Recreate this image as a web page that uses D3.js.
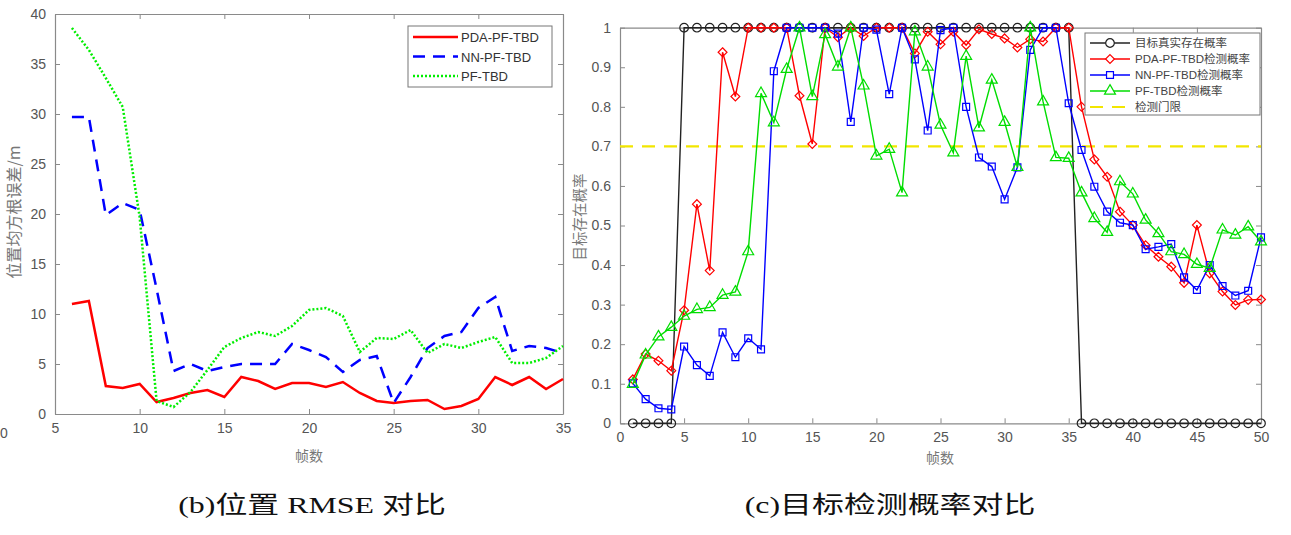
<!DOCTYPE html>
<html>
<head>
<meta charset="utf-8">
<script src="https://cdn.jsdelivr.net/npm/d3@7"></script>
<style>
  body { margin: 0; background: #fff; }
  svg { display: block; }
  .tick text { font-family: "Liberation Sans", Arial, sans-serif; }
</style>
</head>
<body>
<svg id="chart" width="1291" height="535"></svg>
<script>
// ---- left chart: position RMSE (frames 6..35)
var rmseFrames = d3.range(6, 36);
var rmsePDA = [11.0, 11.3, 2.8, 2.6, 3.0, 1.2, 1.6, 2.1, 2.4, 1.7, 3.7, 3.3, 2.5, 3.1,
               3.1, 2.7, 3.2, 2.1, 1.3, 1.1, 1.3, 1.4, 0.5, 0.8, 1.5, 3.7, 2.9, 3.7, 2.5, 3.5];
var rmseNN  = [29.7, 29.7, 19.9, 21.1, 20.4, 12.5, 4.3, 5.0, 4.3, 4.7, 5.0, 5.0, 5.0, 7.0,
               6.4, 5.7, 4.2, 5.4, 5.8, 1.1, 3.7, 6.6, 7.8, 8.2, 10.6, 11.7, 6.3, 6.8, 6.6, 6.1];
var rmsePF  = [38.6, 36.4, 33.6, 30.7, 19.7, 1.3, 0.7, 2.2, 4.4, 6.7, 7.6, 8.2, 7.8, 8.8,
               10.4, 10.6, 9.8, 6.2, 7.6, 7.5, 8.4, 6.1, 7.0, 6.6, 7.2, 7.7, 5.1, 5.1, 5.6, 6.8];
var rmseNames = ["PDA-PF-TBD", "NN-PF-TBD", "PF-TBD"];
var rmseXTicks = [5, 10, 15, 20, 25, 30, 35];
var rmseYTicks = [0, 5, 10, 15, 20, 25, 30, 35, 40];

// ---- right chart: detection probability (frames 1..50)
var probFrames = d3.range(1, 51);
var probTrue = [0, 0, 0, 0, 1, 1, 1, 1, 1, 1, 1, 1, 1, 1, 1, 1, 1, 1, 1, 1, 1, 1, 1, 1, 1,
                1, 1, 1, 1, 1, 1, 1, 1, 1, 1, 0, 0, 0, 0, 0, 0, 0, 0, 0, 0, 0, 0, 0, 0, 0];
var probPDA = [0.111, 0.175, 0.158, 0.133, 0.286, 0.554, 0.386, 0.938, 0.826, 1, 1, 1, 1,
               0.828, 0.706, 1, 0.976, 1, 0.979, 1, 1, 1, 0.935, 0.99, 0.958, 0.99, 0.956,
               0.996, 0.984, 0.973, 0.95, 0.971, 0.965, 1, 1, 0.8, 0.667, 0.623, 0.535, 0.501,
               0.45, 0.421, 0.396, 0.355, 0.501, 0.379, 0.333, 0.299, 0.312, 0.313];
var probNN = [0.101, 0.061, 0.038, 0.035, 0.194, 0.147, 0.12, 0.23, 0.167, 0.215, 0.187,
              0.89, 1, 1, 1, 1, 0.985, 0.762, 1, 0.995, 0.832, 1, 0.92, 0.74, 0.994, 1, 0.8,
              0.672, 0.649, 0.566, 0.647, 0.944, 1, 1, 0.809, 0.691, 0.598, 0.535, 0.507,
              0.501, 0.44, 0.446, 0.453, 0.369, 0.337, 0.4, 0.347, 0.323, 0.335, 0.47];
var probPF = [0.099, 0.173, 0.219, 0.243, 0.271, 0.288, 0.293, 0.324, 0.332, 0.434, 0.834,
              0.76, 0.895, 1, 0.826, 0.983, 0.901, 1, 0.853, 0.676, 0.693, 0.583, 0.99, 0.901,
              0.754, 0.684, 0.928, 0.747, 0.868, 0.761, 0.647, 1, 0.813, 0.672, 0.67, 0.583,
              0.518, 0.483, 0.611, 0.58, 0.514, 0.48, 0.434, 0.427, 0.402, 0.392, 0.489,
              0.476, 0.497, 0.459];
var probThreshold = 0.7;
var probNames = ["目标真实存在概率", "PDA-PF-TBD检测概率", "NN-PF-TBD检测概率", "PF-TBD检测概率", "检测门限"];
var probXTicks = d3.range(0, 51, 5);
var probYTicks = d3.range(0, 11).map(function(d) { return d / 10; });

var svg = d3.select("#chart");
var axisColor = "#8a8a8a";
var labelColor = "#555";
var cjk = "'Noto Sans CJK SC', sans-serif";

/**
 * draws a matlab style box with inside ticks on all four sides
 */
function drawBox(g, x, y, xTicks, yTicks, fmt) {
    var x0 = x.range()[0], x1 = x.range()[1], y0 = y.range()[0], y1 = y.range()[1];

    g.append("g")
            .attr("transform", "translate(0," + y0 + ")")
            .call(d3.axisBottom(x).tickValues(xTicks).tickSizeInner(-5).tickSizeOuter(0).tickPadding(9))
            .call(styleAxis);
    g.append("g")
            .attr("transform", "translate(0," + y1 + ")")
            .call(d3.axisTop(x).tickValues(xTicks).tickSizeInner(-5).tickSizeOuter(0).tickFormat(""))
            .call(styleAxis);
    g.append("g")
            .attr("transform", "translate(" + x0 + ",0)")
            .call(d3.axisLeft(y).tickValues(yTicks).tickSizeInner(-5).tickSizeOuter(0).tickPadding(9).tickFormat(fmt))
            .call(styleAxis);
    g.append("g")
            .attr("transform", "translate(" + x1 + ",0)")
            .call(d3.axisRight(y).tickValues(yTicks).tickSizeInner(-5).tickSizeOuter(0).tickFormat(""))
            .call(styleAxis);

    function styleAxis(a) {
        a.select(".domain").attr("stroke", axisColor).attr("stroke-width", 1.2);
        a.selectAll(".tick line").attr("stroke", axisColor);
        a.selectAll(".tick text").attr("fill", labelColor).style("font-size", "14px");
    }
}

// ================= left chart =================
var lx = d3.scaleLinear().domain([5, 35]).range([55, 563]);
var ly = d3.scaleLinear().domain([0, 40]).range([414, 14]);
var left = svg.append("g");

drawBox(left, lx, ly, rmseXTicks, rmseYTicks, d3.format("d"));

var rmseSeries = [
    {name: rmseNames[0], values: rmsePDA, color: "#ff0000", dash: null},
    {name: rmseNames[1], values: rmseNN, color: "#0000ff", dash: "12,8"},
    {name: rmseNames[2], values: rmsePF, color: "#00ee00", dash: "2,2"}
];

var lline = d3.line()
        .x(function(d, i) { return lx(rmseFrames[i]); })
        .y(function(d) { return ly(d); });

left.selectAll("path.rmse")
        .data(rmseSeries)
        .enter().append("path")
        .attr("class", "rmse")
        .attr("d", function(s) { return lline(s.values); })
        .style("fill", "none")
        .style("stroke", function(s) { return s.color; })
        .style("stroke-width", "2.5px")
        .style("stroke-dasharray", function(s) { return s.dash; });

// legend
var lleg = left.append("g").attr("transform", "translate(408,26)");
lleg.append("rect").attr("width", 144).attr("height", 61)
        .style("fill", "#fff").style("stroke", "#777").style("stroke-width", 1);
rmseSeries.forEach(function(s, i) {
    var yy = 11 + i * 19.5;
    lleg.append("line").attr("x1", 5).attr("x2", 50).attr("y1", yy).attr("y2", yy)
            .style("stroke", s.color).style("stroke-width", "2.5px")
            .style("stroke-dasharray", s.dash);
    lleg.append("text").attr("x", 53).attr("y", yy + 5).text(s.name)
            .style("font-family", "'Liberation Sans', Arial, sans-serif")
            .style("font-size", "13px").style("fill", "#333");
});

left.append("text")
        .attr("transform", "translate(20,212) rotate(-90)")
        .attr("text-anchor", "middle")
        .text("位置均方根误差/m")
        .style("font-family", cjk).style("font-size", "16px").style("fill", "#777");
left.append("text")
        .attr("x", 309).attr("y", 461).attr("text-anchor", "middle")
        .text("帧数")
        .style("font-family", cjk).style("font-size", "14px").style("fill", "#777");
// leftover tick label from the neighbouring panel
left.append("text").attr("x", 0).attr("y", 438).text("0")
        .style("font-family", "'Liberation Sans', Arial, sans-serif")
        .style("font-size", "14px").style("fill", labelColor);

// ================= right chart =================
var rx = d3.scaleLinear().domain([0, 50]).range([620, 1261]);
var ry = d3.scaleLinear().domain([0, 1]).range([423.3, 27.7]);
var right = svg.append("g");

drawBox(right, rx, ry, probXTicks, probYTicks, function(d) { return d3.format("")(+d.toFixed(1)); });

var probSeries = [
    {name: probNames[0], values: probTrue, color: "#222", marker: "circle"},
    {name: probNames[1], values: probPDA, color: "#ff0000", marker: "diamond"},
    {name: probNames[2], values: probNN, color: "#0000ff", marker: "square"},
    {name: probNames[3], values: probPF, color: "#00dd00", marker: "triangle"}
];

var symbols = {
    circle: d3.symbol().type(d3.symbolCircle).size(58),
    diamond: d3.symbol().type(d3.symbolDiamond2).size(50),
    square: d3.symbol().type(d3.symbolSquare).size(48),
    triangle: d3.symbol().type(d3.symbolTriangle).size(52)
};

// threshold under the series
right.append("line")
        .attr("x1", rx(0)).attr("x2", rx(50))
        .attr("y1", ry(probThreshold)).attr("y2", ry(probThreshold))
        .style("stroke", "#f2e600").style("stroke-width", "2.2px")
        .style("stroke-dasharray", "13,9");

var rline = d3.line()
        .x(function(d, i) { return rx(probFrames[i]); })
        .y(function(d) { return ry(d); });

probSeries.forEach(function(s) {
    var g = right.append("g");
    g.append("path")
            .attr("d", rline(s.values))
            .style("fill", "none")
            .style("stroke", s.color)
            .style("stroke-width", "1.4px");
    g.selectAll("path.mk")
            .data(s.values)
            .enter().append("path")
            .attr("class", "mk")
            .attr("d", symbols[s.marker])
            .attr("transform", function(d, i) {
                return "translate(" + rx(probFrames[i]) + "," + ry(d) + ")";
            })
            .style("fill", "none")
            .style("stroke", s.color)
            .style("stroke-width", "1.2px");
});

// legend
var rleg = right.append("g").attr("transform", "translate(1085,33)");
rleg.append("rect").attr("width", 175).attr("height", 82)
        .style("fill", "#fff").style("stroke", "#777").style("stroke-width", 1);
probNames.forEach(function(name, i) {
    var yy = 10 + i * 16;
    var s = probSeries[i];
    var line = rleg.append("line").attr("x1", 5).attr("x2", 45).attr("y1", yy).attr("y2", yy);
    if (s) {
        line.style("stroke", s.color).style("stroke-width", "1.4px");
        rleg.append("path").attr("d", symbols[s.marker])
                .attr("transform", "translate(25," + yy + ")")
                .style("fill", "#fff").style("stroke", s.color).style("stroke-width", "1.2px");
    } else {
        line.style("stroke", "#f2e600").style("stroke-width", "2.2px").style("stroke-dasharray", "13,9");
    }
    rleg.append("text").attr("x", 50).attr("y", yy + 4).text(name)
            .style("font-family", "'Liberation Sans', " + cjk)
            .style("font-size", "11.5px").style("fill", "#444");
});

right.append("text")
        .attr("transform", "translate(585,217) rotate(-90)")
        .attr("text-anchor", "middle")
        .text("目标存在概率")
        .style("font-family", cjk).style("font-size", "14.5px").style("fill", "#777");
right.append("text")
        .attr("x", 940).attr("y", 463).attr("text-anchor", "middle")
        .text("帧数")
        .style("font-family", cjk).style("font-size", "14px").style("fill", "#777");

// ================= captions (source picture is stretched sideways) =================
var captions = [
    {text: "(b)位置 RMSE 对比", x: 312},
    {text: "(c)目标检测概率对比", x: 890}
];
captions.forEach(function(c) {
    svg.append("text")
            .attr("transform", "translate(" + c.x + ",513) scale(1.33,1)")
            .attr("text-anchor", "middle")
            .text(c.text)
            .style("font-family", "'Liberation Serif', " + cjk)
            .style("font-size", "24px").style("fill", "#111");
});
</script>
</body>
</html>
